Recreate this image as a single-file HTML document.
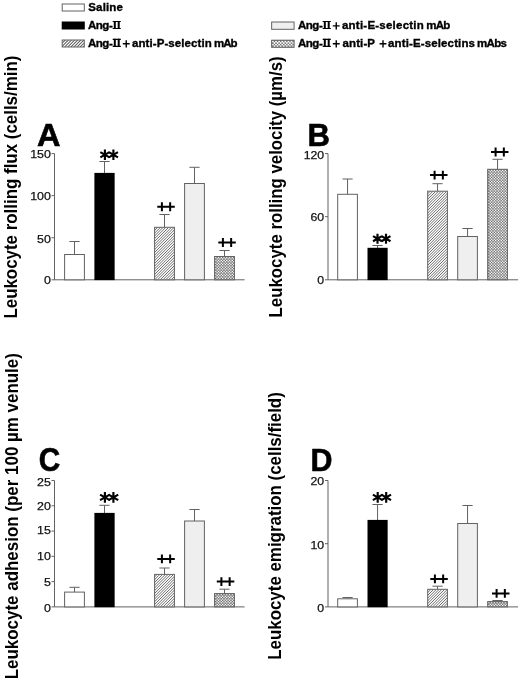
<!DOCTYPE html>
<html><head><meta charset="utf-8"><title>Figure</title>
<style>
html,body{margin:0;padding:0;background:#fff;}
svg{display:block;font-family:'Liberation Sans', sans-serif;will-change:transform;filter:grayscale(1);}
</style></head><body>
<svg width="520" height="679" viewBox="0 0 520 679">
<rect width="520" height="679" fill="#fff"/>

<rect x="62.2" y="4.0" width="22.1" height="7" fill="#fff" stroke="#626262" stroke-width="1"/>
<text x="88.30" y="11.1" font-size="11.5" font-weight="bold" fill="#000" stroke="#000" stroke-width="0.35" textLength="34.6" lengthAdjust="spacing">Saline</text>
<rect x="61.7" y="21.5" width="23.1" height="8" fill="#000"/>
<text x="87.90" y="29.1" font-size="11.5" font-weight="bold" fill="#000" stroke="#000" stroke-width="0.35" textLength="24.9" lengthAdjust="spacing">Ang-</text>
<path d="M112.70 21.50H120.80M112.70 28.50H120.80" stroke="#000" stroke-width="1.2" fill="none"/><path d="M114.80 20.90V29.10M118.70 20.90V29.10" stroke="#000" stroke-width="2" fill="none"/>
<clipPath id="c1"><rect x="62.2" y="40.0" width="22.1" height="7"/></clipPath><rect x="62.2" y="40.0" width="22.1" height="7" fill="#fff"/><path clip-path="url(#c1)" d="M52.20 47.00L59.20 40.00M55.30 47.00L62.30 40.00M58.40 47.00L65.40 40.00M61.50 47.00L68.50 40.00M64.60 47.00L71.60 40.00M67.70 47.00L74.70 40.00M70.80 47.00L77.80 40.00M73.90 47.00L80.90 40.00M77.00 47.00L84.00 40.00M80.10 47.00L87.10 40.00M83.20 47.00L90.20 40.00M86.30 47.00L93.30 40.00" stroke="#525252" stroke-width="1.02" fill="none"/><rect x="62.2" y="40.0" width="22.1" height="7" fill="none" stroke="#626262" stroke-width="1"/>
<text x="87.90" y="47.0" font-size="11.5" font-weight="bold" fill="#000" stroke="#000" stroke-width="0.35" textLength="24.9" lengthAdjust="spacing">Ang-</text>
<path d="M112.70 39.40H120.80M112.70 46.40H120.80" stroke="#000" stroke-width="1.2" fill="none"/><path d="M114.80 38.80V47.00M118.70 38.80V47.00" stroke="#000" stroke-width="2" fill="none"/>
<path d="M122.80 43.80H129.70M126.25 40.15V47.45" stroke="#000" stroke-width="1.4" fill="none"/>
<text x="132.00" y="47.0" font-size="11.5" font-weight="bold" fill="#000" stroke="#000" stroke-width="0.35" textLength="79.8" lengthAdjust="spacing">anti-P-selectin</text>
<text x="213.90" y="47.0" font-size="11.5" font-weight="bold" fill="#000" stroke="#000" stroke-width="0.35" textLength="23.6" lengthAdjust="spacing">mAb</text>
<rect x="271.65" y="22.0" width="22.45" height="7.3" fill="#efefef" stroke="#626262" stroke-width="1"/>
<text x="297.90" y="29.1" font-size="11.5" font-weight="bold" fill="#000" stroke="#000" stroke-width="0.35" textLength="24.9" lengthAdjust="spacing">Ang-</text>
<path d="M322.70 21.50H330.80M322.70 28.50H330.80" stroke="#000" stroke-width="1.2" fill="none"/><path d="M324.80 20.90V29.10M328.70 20.90V29.10" stroke="#000" stroke-width="2" fill="none"/>
<path d="M332.80 25.90H339.70M336.25 22.25V29.55" stroke="#000" stroke-width="1.4" fill="none"/>
<text x="342.00" y="29.1" font-size="11.5" font-weight="bold" fill="#000" stroke="#000" stroke-width="0.35" textLength="81.8" lengthAdjust="spacing">anti-E-selectin</text>
<text x="426.20" y="29.1" font-size="11.5" font-weight="bold" fill="#000" stroke="#000" stroke-width="0.35" textLength="24" lengthAdjust="spacing">mAb</text>
<clipPath id="c2"><rect x="271.65" y="40.2" width="22.45" height="7.1"/></clipPath><rect x="271.65" y="40.2" width="22.45" height="7.1" fill="#707070"/><path clip-path="url(#c2)" d="M272.92 41.48h0M276.02 41.48h0M279.12 41.48h0M282.23 41.48h0M285.33 41.48h0M288.43 41.48h0M291.53 41.48h0M294.63 41.48h0M274.47 43.02h0M277.57 43.02h0M280.68 43.02h0M283.78 43.02h0M286.88 43.02h0M289.98 43.02h0M293.08 43.02h0M272.92 44.57h0M276.02 44.57h0M279.12 44.57h0M282.23 44.57h0M285.33 44.57h0M288.43 44.57h0M291.53 44.57h0M294.63 44.57h0M274.47 46.12h0M277.57 46.12h0M280.68 46.12h0M283.78 46.12h0M286.88 46.12h0M289.98 46.12h0M293.08 46.12h0M272.92 47.67h0M276.02 47.67h0M279.12 47.67h0M282.23 47.67h0M285.33 47.67h0M288.43 47.67h0M291.53 47.67h0M294.63 47.67h0" stroke="#fff" stroke-width="1.8599999999999999" stroke-linecap="round" fill="none"/><rect x="271.65" y="40.2" width="22.45" height="7.1" fill="none" stroke="#626262" stroke-width="1"/>
<text x="297.90" y="47.0" font-size="11.5" font-weight="bold" fill="#000" stroke="#000" stroke-width="0.35" textLength="24.9" lengthAdjust="spacing">Ang-</text>
<path d="M322.70 39.40H330.80M322.70 46.40H330.80" stroke="#000" stroke-width="1.2" fill="none"/><path d="M324.80 38.80V47.00M328.70 38.80V47.00" stroke="#000" stroke-width="2" fill="none"/>
<path d="M332.80 43.80H339.70M336.25 40.15V47.45" stroke="#000" stroke-width="1.4" fill="none"/>
<text x="342.50" y="47.0" font-size="11.5" font-weight="bold" fill="#000" stroke="#000" stroke-width="0.35" textLength="32.5" lengthAdjust="spacing">anti-P</text>
<path d="M379.55 43.80H386.45M383.00 40.15V47.45" stroke="#000" stroke-width="1.4" fill="none"/>
<text x="388.00" y="47.0" font-size="11.5" font-weight="bold" fill="#000" stroke="#000" stroke-width="0.35" textLength="87" lengthAdjust="spacing">anti-E-selectins</text>
<text x="477.00" y="47.0" font-size="11.5" font-weight="bold" fill="#000" stroke="#000" stroke-width="0.35" textLength="30" lengthAdjust="spacing">mAbs</text>
<path d="M54.5 153.6V279.8H244.6" stroke="#626262" stroke-width="1" fill="none"/>
<path d="M51.5 153.6H54.5" stroke="#626262" stroke-width="1"/>
<text x="50.9" y="158.10" text-anchor="end" font-size="11.6" textLength="20.7" lengthAdjust="spacingAndGlyphs" fill="#111" stroke="#111" stroke-width="0.25">150</text>
<path d="M51.5 195.67H54.5" stroke="#626262" stroke-width="1"/>
<text x="50.9" y="199.92" text-anchor="end" font-size="11.6" textLength="20.7" lengthAdjust="spacingAndGlyphs" fill="#111" stroke="#111" stroke-width="0.25">100</text>
<path d="M51.5 237.73H54.5" stroke="#626262" stroke-width="1"/>
<text x="50.9" y="242.53" text-anchor="end" font-size="11.6" textLength="13.8" lengthAdjust="spacingAndGlyphs" fill="#111" stroke="#111" stroke-width="0.25">50</text>
<path d="M51.5 279.8H54.5" stroke="#626262" stroke-width="1"/>
<text x="50.9" y="284.00" text-anchor="end" font-size="11.6" textLength="6.9" lengthAdjust="spacingAndGlyphs" fill="#111" stroke="#111" stroke-width="0.25">0</text>
<path d="M74.5 254.5V241.5M69.4 241.5H79.6" stroke="#626262" stroke-width="1" fill="none"/>
<rect x="64.6" y="254.5" width="19.8" height="25.3" fill="#fff" stroke="#626262" stroke-width="1"/>
<path d="M104.5 173.3V161.5M99.4 161.5H109.6" stroke="#626262" stroke-width="1" fill="none"/>
<rect x="94.40" y="172.90" width="20.25" height="107.20" fill="#000"/>
<path d="M164.5 227.3V214.5M159.4 214.5H169.6" stroke="#626262" stroke-width="1" fill="none"/>
<clipPath id="c3"><rect x="154.6" y="227.3" width="19.8" height="52.5"/></clipPath><rect x="154.6" y="227.3" width="19.8" height="52.5" fill="#fff"/><path clip-path="url(#c3)" d="M99.70 279.80L152.20 227.30M102.45 279.80L154.95 227.30M105.20 279.80L157.70 227.30M107.95 279.80L160.45 227.30M110.70 279.80L163.20 227.30M113.45 279.80L165.95 227.30M116.20 279.80L168.70 227.30M118.95 279.80L171.45 227.30M121.70 279.80L174.20 227.30M124.45 279.80L176.95 227.30M127.20 279.80L179.70 227.30M129.95 279.80L182.45 227.30M132.70 279.80L185.20 227.30M135.45 279.80L187.95 227.30M138.20 279.80L190.70 227.30M140.95 279.80L193.45 227.30M143.70 279.80L196.20 227.30M146.45 279.80L198.95 227.30M149.20 279.80L201.70 227.30M151.95 279.80L204.45 227.30M154.70 279.80L207.20 227.30M157.45 279.80L209.95 227.30M160.20 279.80L212.70 227.30M162.95 279.80L215.45 227.30M165.70 279.80L218.20 227.30M168.45 279.80L220.95 227.30M171.20 279.80L223.70 227.30M173.95 279.80L226.45 227.30M176.70 279.80L229.20 227.30" stroke="#525252" stroke-width="0.85" fill="none"/><rect x="154.6" y="227.3" width="19.8" height="52.5" fill="none" stroke="#626262" stroke-width="1"/>
<path d="M194.5 183.5V167.3M189.4 167.3H199.6" stroke="#626262" stroke-width="1" fill="none"/>
<rect x="184.6" y="183.5" width="19.8" height="96.3" fill="#efefef" stroke="#626262" stroke-width="1"/>
<path d="M224.5 256.5V250.5M219.4 250.5H229.6" stroke="#626262" stroke-width="1" fill="none"/>
<clipPath id="c4"><rect x="214.6" y="256.5" width="19.8" height="23.3"/></clipPath><rect x="214.6" y="256.5" width="19.8" height="23.3" fill="#707070"/><path clip-path="url(#c4)" d="M215.79 257.69h0M218.54 257.69h0M221.29 257.69h0M224.04 257.69h0M226.79 257.69h0M229.54 257.69h0M232.29 257.69h0M235.04 257.69h0M217.16 259.06h0M219.91 259.06h0M222.66 259.06h0M225.41 259.06h0M228.16 259.06h0M230.91 259.06h0M233.66 259.06h0M215.79 260.44h0M218.54 260.44h0M221.29 260.44h0M224.04 260.44h0M226.79 260.44h0M229.54 260.44h0M232.29 260.44h0M235.04 260.44h0M217.16 261.81h0M219.91 261.81h0M222.66 261.81h0M225.41 261.81h0M228.16 261.81h0M230.91 261.81h0M233.66 261.81h0M215.79 263.19h0M218.54 263.19h0M221.29 263.19h0M224.04 263.19h0M226.79 263.19h0M229.54 263.19h0M232.29 263.19h0M235.04 263.19h0M217.16 264.56h0M219.91 264.56h0M222.66 264.56h0M225.41 264.56h0M228.16 264.56h0M230.91 264.56h0M233.66 264.56h0M215.79 265.94h0M218.54 265.94h0M221.29 265.94h0M224.04 265.94h0M226.79 265.94h0M229.54 265.94h0M232.29 265.94h0M235.04 265.94h0M217.16 267.31h0M219.91 267.31h0M222.66 267.31h0M225.41 267.31h0M228.16 267.31h0M230.91 267.31h0M233.66 267.31h0M215.79 268.69h0M218.54 268.69h0M221.29 268.69h0M224.04 268.69h0M226.79 268.69h0M229.54 268.69h0M232.29 268.69h0M235.04 268.69h0M217.16 270.06h0M219.91 270.06h0M222.66 270.06h0M225.41 270.06h0M228.16 270.06h0M230.91 270.06h0M233.66 270.06h0M215.79 271.44h0M218.54 271.44h0M221.29 271.44h0M224.04 271.44h0M226.79 271.44h0M229.54 271.44h0M232.29 271.44h0M235.04 271.44h0M217.16 272.81h0M219.91 272.81h0M222.66 272.81h0M225.41 272.81h0M228.16 272.81h0M230.91 272.81h0M233.66 272.81h0M215.79 274.19h0M218.54 274.19h0M221.29 274.19h0M224.04 274.19h0M226.79 274.19h0M229.54 274.19h0M232.29 274.19h0M235.04 274.19h0M217.16 275.56h0M219.91 275.56h0M222.66 275.56h0M225.41 275.56h0M228.16 275.56h0M230.91 275.56h0M233.66 275.56h0M215.79 276.94h0M218.54 276.94h0M221.29 276.94h0M224.04 276.94h0M226.79 276.94h0M229.54 276.94h0M232.29 276.94h0M235.04 276.94h0M217.16 278.31h0M219.91 278.31h0M222.66 278.31h0M225.41 278.31h0M228.16 278.31h0M230.91 278.31h0M233.66 278.31h0M215.79 279.69h0M218.54 279.69h0M221.29 279.69h0M224.04 279.69h0M226.79 279.69h0M229.54 279.69h0M232.29 279.69h0M235.04 279.69h0M217.16 281.06h0M219.91 281.06h0M222.66 281.06h0M225.41 281.06h0M228.16 281.06h0M230.91 281.06h0M233.66 281.06h0" stroke="#fff" stroke-width="1.55" stroke-linecap="round" fill="none"/><rect x="214.6" y="256.5" width="19.8" height="23.3" fill="none" stroke="#626262" stroke-width="1"/>
<path d="M104.90 149.60V159.90M100.34 152.12L109.46 157.38M100.34 157.38L109.46 152.12" stroke="#000" stroke-width="2.15" fill="none"/><path d="M113.40 149.60V159.90M108.84 152.12L117.96 157.38M108.84 157.38L117.96 152.12" stroke="#000" stroke-width="2.15" fill="none"/>
<path d="M157.30 206.70H174.80M161.90 202.25V211.15M170.15 202.25V211.15" stroke="#000" stroke-width="2" fill="none"/>
<path d="M218.30 242.50H235.80M222.90 238.05V246.95M231.15 238.05V246.95" stroke="#000" stroke-width="2" fill="none"/>
<text x="37.0" y="146.2" font-size="31.3" font-weight="bold" fill="#000" stroke="#000" stroke-width="0.6" stroke-linejoin="miter" textLength="23.5" lengthAdjust="spacingAndGlyphs">A</text>
<text transform="translate(17.0 318.6) rotate(-90)" font-size="18" font-weight="bold" fill="#000" textLength="263" lengthAdjust="spacingAndGlyphs">Leukocyte rolling flux (cells/min)</text>
<path d="M328.0 153.6V279.8H518.1" stroke="#626262" stroke-width="1" fill="none"/>
<path d="M325.0 153.6H328.0" stroke="#626262" stroke-width="1"/>
<text x="324.2" y="158.55" text-anchor="end" font-size="11.6" textLength="20.55" lengthAdjust="spacingAndGlyphs" fill="#111" stroke="#111" stroke-width="0.25">120</text>
<path d="M325.0 216.7H328.0" stroke="#626262" stroke-width="1"/>
<text x="324.2" y="220.75" text-anchor="end" font-size="11.6" textLength="13.7" lengthAdjust="spacingAndGlyphs" fill="#111" stroke="#111" stroke-width="0.25">60</text>
<path d="M325.0 279.8H328.0" stroke="#626262" stroke-width="1"/>
<text x="324.2" y="284.25" text-anchor="end" font-size="11.6" textLength="6.85" lengthAdjust="spacingAndGlyphs" fill="#111" stroke="#111" stroke-width="0.25">0</text>
<path d="M347.55 194.3V179M342.45 179H352.65000000000003" stroke="#626262" stroke-width="1" fill="none"/>
<rect x="337.7" y="194.3" width="19.7" height="85.5" fill="#fff" stroke="#626262" stroke-width="1"/>
<path d="M377.55 248.2V245.5M372.45 245.5H382.65000000000003" stroke="#626262" stroke-width="1" fill="none"/>
<rect x="367.50" y="247.80" width="20.15" height="32.30" fill="#000"/>
<path d="M437.55 191.2V183.7M432.45 183.7H442.65000000000003" stroke="#626262" stroke-width="1" fill="none"/>
<clipPath id="c5"><rect x="427.7" y="191.2" width="19.7" height="88.6"/></clipPath><rect x="427.7" y="191.2" width="19.7" height="88.6" fill="#fff"/><path clip-path="url(#c5)" d="M338.95 279.80L427.55 191.20M341.70 279.80L430.30 191.20M344.45 279.80L433.05 191.20M347.20 279.80L435.80 191.20M349.95 279.80L438.55 191.20M352.70 279.80L441.30 191.20M355.45 279.80L444.05 191.20M358.20 279.80L446.80 191.20M360.95 279.80L449.55 191.20M363.70 279.80L452.30 191.20M366.45 279.80L455.05 191.20M369.20 279.80L457.80 191.20M371.95 279.80L460.55 191.20M374.70 279.80L463.30 191.20M377.45 279.80L466.05 191.20M380.20 279.80L468.80 191.20M382.95 279.80L471.55 191.20M385.70 279.80L474.30 191.20M388.45 279.80L477.05 191.20M391.20 279.80L479.80 191.20M393.95 279.80L482.55 191.20M396.70 279.80L485.30 191.20M399.45 279.80L488.05 191.20M402.20 279.80L490.80 191.20M404.95 279.80L493.55 191.20M407.70 279.80L496.30 191.20M410.45 279.80L499.05 191.20M413.20 279.80L501.80 191.20M415.95 279.80L504.55 191.20M418.70 279.80L507.30 191.20M421.45 279.80L510.05 191.20M424.20 279.80L512.80 191.20M426.95 279.80L515.55 191.20M429.70 279.80L518.30 191.20M432.45 279.80L521.05 191.20M435.20 279.80L523.80 191.20M437.95 279.80L526.55 191.20M440.70 279.80L529.30 191.20M443.45 279.80L532.05 191.20M446.20 279.80L534.80 191.20M448.95 279.80L537.55 191.20" stroke="#525252" stroke-width="0.85" fill="none"/><rect x="427.7" y="191.2" width="19.7" height="88.6" fill="none" stroke="#626262" stroke-width="1"/>
<path d="M467.55 236.5V228.5M462.45 228.5H472.65000000000003" stroke="#626262" stroke-width="1" fill="none"/>
<rect x="457.7" y="236.5" width="19.7" height="43.3" fill="#efefef" stroke="#626262" stroke-width="1"/>
<path d="M497.55 169.3V159.3M492.45 159.3H502.65000000000003" stroke="#626262" stroke-width="1" fill="none"/>
<clipPath id="c6"><rect x="487.7" y="169.3" width="19.7" height="110.5"/></clipPath><rect x="487.7" y="169.3" width="19.7" height="110.5" fill="#707070"/><path clip-path="url(#c6)" d="M488.89 170.49h0M491.64 170.49h0M494.39 170.49h0M497.14 170.49h0M499.89 170.49h0M502.64 170.49h0M505.39 170.49h0M508.14 170.49h0M490.26 171.86h0M493.01 171.86h0M495.76 171.86h0M498.51 171.86h0M501.26 171.86h0M504.01 171.86h0M506.76 171.86h0M488.89 173.24h0M491.64 173.24h0M494.39 173.24h0M497.14 173.24h0M499.89 173.24h0M502.64 173.24h0M505.39 173.24h0M508.14 173.24h0M490.26 174.61h0M493.01 174.61h0M495.76 174.61h0M498.51 174.61h0M501.26 174.61h0M504.01 174.61h0M506.76 174.61h0M488.89 175.99h0M491.64 175.99h0M494.39 175.99h0M497.14 175.99h0M499.89 175.99h0M502.64 175.99h0M505.39 175.99h0M508.14 175.99h0M490.26 177.36h0M493.01 177.36h0M495.76 177.36h0M498.51 177.36h0M501.26 177.36h0M504.01 177.36h0M506.76 177.36h0M488.89 178.74h0M491.64 178.74h0M494.39 178.74h0M497.14 178.74h0M499.89 178.74h0M502.64 178.74h0M505.39 178.74h0M508.14 178.74h0M490.26 180.11h0M493.01 180.11h0M495.76 180.11h0M498.51 180.11h0M501.26 180.11h0M504.01 180.11h0M506.76 180.11h0M488.89 181.49h0M491.64 181.49h0M494.39 181.49h0M497.14 181.49h0M499.89 181.49h0M502.64 181.49h0M505.39 181.49h0M508.14 181.49h0M490.26 182.86h0M493.01 182.86h0M495.76 182.86h0M498.51 182.86h0M501.26 182.86h0M504.01 182.86h0M506.76 182.86h0M488.89 184.24h0M491.64 184.24h0M494.39 184.24h0M497.14 184.24h0M499.89 184.24h0M502.64 184.24h0M505.39 184.24h0M508.14 184.24h0M490.26 185.61h0M493.01 185.61h0M495.76 185.61h0M498.51 185.61h0M501.26 185.61h0M504.01 185.61h0M506.76 185.61h0M488.89 186.99h0M491.64 186.99h0M494.39 186.99h0M497.14 186.99h0M499.89 186.99h0M502.64 186.99h0M505.39 186.99h0M508.14 186.99h0M490.26 188.36h0M493.01 188.36h0M495.76 188.36h0M498.51 188.36h0M501.26 188.36h0M504.01 188.36h0M506.76 188.36h0M488.89 189.74h0M491.64 189.74h0M494.39 189.74h0M497.14 189.74h0M499.89 189.74h0M502.64 189.74h0M505.39 189.74h0M508.14 189.74h0M490.26 191.11h0M493.01 191.11h0M495.76 191.11h0M498.51 191.11h0M501.26 191.11h0M504.01 191.11h0M506.76 191.11h0M488.89 192.49h0M491.64 192.49h0M494.39 192.49h0M497.14 192.49h0M499.89 192.49h0M502.64 192.49h0M505.39 192.49h0M508.14 192.49h0M490.26 193.86h0M493.01 193.86h0M495.76 193.86h0M498.51 193.86h0M501.26 193.86h0M504.01 193.86h0M506.76 193.86h0M488.89 195.24h0M491.64 195.24h0M494.39 195.24h0M497.14 195.24h0M499.89 195.24h0M502.64 195.24h0M505.39 195.24h0M508.14 195.24h0M490.26 196.61h0M493.01 196.61h0M495.76 196.61h0M498.51 196.61h0M501.26 196.61h0M504.01 196.61h0M506.76 196.61h0M488.89 197.99h0M491.64 197.99h0M494.39 197.99h0M497.14 197.99h0M499.89 197.99h0M502.64 197.99h0M505.39 197.99h0M508.14 197.99h0M490.26 199.36h0M493.01 199.36h0M495.76 199.36h0M498.51 199.36h0M501.26 199.36h0M504.01 199.36h0M506.76 199.36h0M488.89 200.74h0M491.64 200.74h0M494.39 200.74h0M497.14 200.74h0M499.89 200.74h0M502.64 200.74h0M505.39 200.74h0M508.14 200.74h0M490.26 202.11h0M493.01 202.11h0M495.76 202.11h0M498.51 202.11h0M501.26 202.11h0M504.01 202.11h0M506.76 202.11h0M488.89 203.49h0M491.64 203.49h0M494.39 203.49h0M497.14 203.49h0M499.89 203.49h0M502.64 203.49h0M505.39 203.49h0M508.14 203.49h0M490.26 204.86h0M493.01 204.86h0M495.76 204.86h0M498.51 204.86h0M501.26 204.86h0M504.01 204.86h0M506.76 204.86h0M488.89 206.24h0M491.64 206.24h0M494.39 206.24h0M497.14 206.24h0M499.89 206.24h0M502.64 206.24h0M505.39 206.24h0M508.14 206.24h0M490.26 207.61h0M493.01 207.61h0M495.76 207.61h0M498.51 207.61h0M501.26 207.61h0M504.01 207.61h0M506.76 207.61h0M488.89 208.99h0M491.64 208.99h0M494.39 208.99h0M497.14 208.99h0M499.89 208.99h0M502.64 208.99h0M505.39 208.99h0M508.14 208.99h0M490.26 210.36h0M493.01 210.36h0M495.76 210.36h0M498.51 210.36h0M501.26 210.36h0M504.01 210.36h0M506.76 210.36h0M488.89 211.74h0M491.64 211.74h0M494.39 211.74h0M497.14 211.74h0M499.89 211.74h0M502.64 211.74h0M505.39 211.74h0M508.14 211.74h0M490.26 213.11h0M493.01 213.11h0M495.76 213.11h0M498.51 213.11h0M501.26 213.11h0M504.01 213.11h0M506.76 213.11h0M488.89 214.49h0M491.64 214.49h0M494.39 214.49h0M497.14 214.49h0M499.89 214.49h0M502.64 214.49h0M505.39 214.49h0M508.14 214.49h0M490.26 215.86h0M493.01 215.86h0M495.76 215.86h0M498.51 215.86h0M501.26 215.86h0M504.01 215.86h0M506.76 215.86h0M488.89 217.24h0M491.64 217.24h0M494.39 217.24h0M497.14 217.24h0M499.89 217.24h0M502.64 217.24h0M505.39 217.24h0M508.14 217.24h0M490.26 218.61h0M493.01 218.61h0M495.76 218.61h0M498.51 218.61h0M501.26 218.61h0M504.01 218.61h0M506.76 218.61h0M488.89 219.99h0M491.64 219.99h0M494.39 219.99h0M497.14 219.99h0M499.89 219.99h0M502.64 219.99h0M505.39 219.99h0M508.14 219.99h0M490.26 221.36h0M493.01 221.36h0M495.76 221.36h0M498.51 221.36h0M501.26 221.36h0M504.01 221.36h0M506.76 221.36h0M488.89 222.74h0M491.64 222.74h0M494.39 222.74h0M497.14 222.74h0M499.89 222.74h0M502.64 222.74h0M505.39 222.74h0M508.14 222.74h0M490.26 224.11h0M493.01 224.11h0M495.76 224.11h0M498.51 224.11h0M501.26 224.11h0M504.01 224.11h0M506.76 224.11h0M488.89 225.49h0M491.64 225.49h0M494.39 225.49h0M497.14 225.49h0M499.89 225.49h0M502.64 225.49h0M505.39 225.49h0M508.14 225.49h0M490.26 226.86h0M493.01 226.86h0M495.76 226.86h0M498.51 226.86h0M501.26 226.86h0M504.01 226.86h0M506.76 226.86h0M488.89 228.24h0M491.64 228.24h0M494.39 228.24h0M497.14 228.24h0M499.89 228.24h0M502.64 228.24h0M505.39 228.24h0M508.14 228.24h0M490.26 229.61h0M493.01 229.61h0M495.76 229.61h0M498.51 229.61h0M501.26 229.61h0M504.01 229.61h0M506.76 229.61h0M488.89 230.99h0M491.64 230.99h0M494.39 230.99h0M497.14 230.99h0M499.89 230.99h0M502.64 230.99h0M505.39 230.99h0M508.14 230.99h0M490.26 232.36h0M493.01 232.36h0M495.76 232.36h0M498.51 232.36h0M501.26 232.36h0M504.01 232.36h0M506.76 232.36h0M488.89 233.74h0M491.64 233.74h0M494.39 233.74h0M497.14 233.74h0M499.89 233.74h0M502.64 233.74h0M505.39 233.74h0M508.14 233.74h0M490.26 235.11h0M493.01 235.11h0M495.76 235.11h0M498.51 235.11h0M501.26 235.11h0M504.01 235.11h0M506.76 235.11h0M488.89 236.49h0M491.64 236.49h0M494.39 236.49h0M497.14 236.49h0M499.89 236.49h0M502.64 236.49h0M505.39 236.49h0M508.14 236.49h0M490.26 237.86h0M493.01 237.86h0M495.76 237.86h0M498.51 237.86h0M501.26 237.86h0M504.01 237.86h0M506.76 237.86h0M488.89 239.24h0M491.64 239.24h0M494.39 239.24h0M497.14 239.24h0M499.89 239.24h0M502.64 239.24h0M505.39 239.24h0M508.14 239.24h0M490.26 240.61h0M493.01 240.61h0M495.76 240.61h0M498.51 240.61h0M501.26 240.61h0M504.01 240.61h0M506.76 240.61h0M488.89 241.99h0M491.64 241.99h0M494.39 241.99h0M497.14 241.99h0M499.89 241.99h0M502.64 241.99h0M505.39 241.99h0M508.14 241.99h0M490.26 243.36h0M493.01 243.36h0M495.76 243.36h0M498.51 243.36h0M501.26 243.36h0M504.01 243.36h0M506.76 243.36h0M488.89 244.74h0M491.64 244.74h0M494.39 244.74h0M497.14 244.74h0M499.89 244.74h0M502.64 244.74h0M505.39 244.74h0M508.14 244.74h0M490.26 246.11h0M493.01 246.11h0M495.76 246.11h0M498.51 246.11h0M501.26 246.11h0M504.01 246.11h0M506.76 246.11h0M488.89 247.49h0M491.64 247.49h0M494.39 247.49h0M497.14 247.49h0M499.89 247.49h0M502.64 247.49h0M505.39 247.49h0M508.14 247.49h0M490.26 248.86h0M493.01 248.86h0M495.76 248.86h0M498.51 248.86h0M501.26 248.86h0M504.01 248.86h0M506.76 248.86h0M488.89 250.24h0M491.64 250.24h0M494.39 250.24h0M497.14 250.24h0M499.89 250.24h0M502.64 250.24h0M505.39 250.24h0M508.14 250.24h0M490.26 251.61h0M493.01 251.61h0M495.76 251.61h0M498.51 251.61h0M501.26 251.61h0M504.01 251.61h0M506.76 251.61h0M488.89 252.99h0M491.64 252.99h0M494.39 252.99h0M497.14 252.99h0M499.89 252.99h0M502.64 252.99h0M505.39 252.99h0M508.14 252.99h0M490.26 254.36h0M493.01 254.36h0M495.76 254.36h0M498.51 254.36h0M501.26 254.36h0M504.01 254.36h0M506.76 254.36h0M488.89 255.74h0M491.64 255.74h0M494.39 255.74h0M497.14 255.74h0M499.89 255.74h0M502.64 255.74h0M505.39 255.74h0M508.14 255.74h0M490.26 257.11h0M493.01 257.11h0M495.76 257.11h0M498.51 257.11h0M501.26 257.11h0M504.01 257.11h0M506.76 257.11h0M488.89 258.49h0M491.64 258.49h0M494.39 258.49h0M497.14 258.49h0M499.89 258.49h0M502.64 258.49h0M505.39 258.49h0M508.14 258.49h0M490.26 259.86h0M493.01 259.86h0M495.76 259.86h0M498.51 259.86h0M501.26 259.86h0M504.01 259.86h0M506.76 259.86h0M488.89 261.24h0M491.64 261.24h0M494.39 261.24h0M497.14 261.24h0M499.89 261.24h0M502.64 261.24h0M505.39 261.24h0M508.14 261.24h0M490.26 262.61h0M493.01 262.61h0M495.76 262.61h0M498.51 262.61h0M501.26 262.61h0M504.01 262.61h0M506.76 262.61h0M488.89 263.99h0M491.64 263.99h0M494.39 263.99h0M497.14 263.99h0M499.89 263.99h0M502.64 263.99h0M505.39 263.99h0M508.14 263.99h0M490.26 265.36h0M493.01 265.36h0M495.76 265.36h0M498.51 265.36h0M501.26 265.36h0M504.01 265.36h0M506.76 265.36h0M488.89 266.74h0M491.64 266.74h0M494.39 266.74h0M497.14 266.74h0M499.89 266.74h0M502.64 266.74h0M505.39 266.74h0M508.14 266.74h0M490.26 268.11h0M493.01 268.11h0M495.76 268.11h0M498.51 268.11h0M501.26 268.11h0M504.01 268.11h0M506.76 268.11h0M488.89 269.49h0M491.64 269.49h0M494.39 269.49h0M497.14 269.49h0M499.89 269.49h0M502.64 269.49h0M505.39 269.49h0M508.14 269.49h0M490.26 270.86h0M493.01 270.86h0M495.76 270.86h0M498.51 270.86h0M501.26 270.86h0M504.01 270.86h0M506.76 270.86h0M488.89 272.24h0M491.64 272.24h0M494.39 272.24h0M497.14 272.24h0M499.89 272.24h0M502.64 272.24h0M505.39 272.24h0M508.14 272.24h0M490.26 273.61h0M493.01 273.61h0M495.76 273.61h0M498.51 273.61h0M501.26 273.61h0M504.01 273.61h0M506.76 273.61h0M488.89 274.99h0M491.64 274.99h0M494.39 274.99h0M497.14 274.99h0M499.89 274.99h0M502.64 274.99h0M505.39 274.99h0M508.14 274.99h0M490.26 276.36h0M493.01 276.36h0M495.76 276.36h0M498.51 276.36h0M501.26 276.36h0M504.01 276.36h0M506.76 276.36h0M488.89 277.74h0M491.64 277.74h0M494.39 277.74h0M497.14 277.74h0M499.89 277.74h0M502.64 277.74h0M505.39 277.74h0M508.14 277.74h0M490.26 279.11h0M493.01 279.11h0M495.76 279.11h0M498.51 279.11h0M501.26 279.11h0M504.01 279.11h0M506.76 279.11h0M488.89 280.49h0M491.64 280.49h0M494.39 280.49h0M497.14 280.49h0M499.89 280.49h0M502.64 280.49h0M505.39 280.49h0M508.14 280.49h0" stroke="#fff" stroke-width="1.55" stroke-linecap="round" fill="none"/><rect x="487.7" y="169.3" width="19.7" height="110.5" fill="none" stroke="#626262" stroke-width="1"/>
<path d="M377.50 233.65V243.75M373.03 236.12L381.97 241.28M373.03 241.28L381.97 236.12" stroke="#000" stroke-width="2.15" fill="none"/><path d="M386.00 233.65V243.75M381.53 236.12L390.47 241.28M381.53 241.28L390.47 236.12" stroke="#000" stroke-width="2.15" fill="none"/>
<path d="M430.00 175.10H447.50M434.60 170.65V179.55M442.85 170.65V179.55" stroke="#000" stroke-width="2" fill="none"/>
<path d="M491.00 152.00H508.50M495.60 147.55V156.45M503.85 147.55V156.45" stroke="#000" stroke-width="2" fill="none"/>
<text x="307.5" y="146.3" font-size="31.3" font-weight="bold" fill="#000" stroke="#000" stroke-width="0.6" stroke-linejoin="miter" textLength="22.4" lengthAdjust="spacingAndGlyphs">B</text>
<text transform="translate(281.7 317.4) rotate(-90)" font-size="18" font-weight="bold" fill="#000" textLength="261" lengthAdjust="spacingAndGlyphs">Leukocyte rolling velocity (µm/s)</text>
<path d="M54.5 480.5V606.9H244.6" stroke="#626262" stroke-width="1" fill="none"/>
<path d="M51.5 480.5H54.5" stroke="#626262" stroke-width="1"/>
<text x="50.9" y="485.55" text-anchor="end" font-size="11.6" textLength="13.8" lengthAdjust="spacingAndGlyphs" fill="#111" stroke="#111" stroke-width="0.25">25</text>
<path d="M51.5 505.78H54.5" stroke="#626262" stroke-width="1"/>
<text x="50.9" y="509.73" text-anchor="end" font-size="11.6" textLength="13.8" lengthAdjust="spacingAndGlyphs" fill="#111" stroke="#111" stroke-width="0.25">20</text>
<path d="M51.5 531.06H54.5" stroke="#626262" stroke-width="1"/>
<text x="50.9" y="534.41" text-anchor="end" font-size="11.6" textLength="13.8" lengthAdjust="spacingAndGlyphs" fill="#111" stroke="#111" stroke-width="0.25">15</text>
<path d="M51.5 556.34H54.5" stroke="#626262" stroke-width="1"/>
<text x="50.9" y="560.39" text-anchor="end" font-size="11.6" textLength="13.8" lengthAdjust="spacingAndGlyphs" fill="#111" stroke="#111" stroke-width="0.25">10</text>
<path d="M51.5 581.62H54.5" stroke="#626262" stroke-width="1"/>
<text x="50.9" y="586.07" text-anchor="end" font-size="11.6" textLength="6.9" lengthAdjust="spacingAndGlyphs" fill="#111" stroke="#111" stroke-width="0.25">5</text>
<path d="M51.5 606.9H54.5" stroke="#626262" stroke-width="1"/>
<text x="50.9" y="611.95" text-anchor="end" font-size="11.6" textLength="6.9" lengthAdjust="spacingAndGlyphs" fill="#111" stroke="#111" stroke-width="0.25">0</text>
<path d="M74.5 592.1V587.3M69.4 587.3H79.6" stroke="#626262" stroke-width="1" fill="none"/>
<rect x="64.6" y="592.1" width="19.8" height="14.8" fill="#fff" stroke="#626262" stroke-width="1"/>
<path d="M104.5 513.3V505.3M99.4 505.3H109.6" stroke="#626262" stroke-width="1" fill="none"/>
<rect x="94.40" y="512.90" width="20.25" height="94.30" fill="#000"/>
<path d="M164.5 574.4V568.0M159.4 568.0H169.6" stroke="#626262" stroke-width="1" fill="none"/>
<clipPath id="c7"><rect x="154.6" y="574.4" width="19.8" height="32.5"/></clipPath><rect x="154.6" y="574.4" width="19.8" height="32.5" fill="#fff"/><path clip-path="url(#c7)" d="M121.85 606.90L154.35 574.40M124.60 606.90L157.10 574.40M127.35 606.90L159.85 574.40M130.10 606.90L162.60 574.40M132.85 606.90L165.35 574.40M135.60 606.90L168.10 574.40M138.35 606.90L170.85 574.40M141.10 606.90L173.60 574.40M143.85 606.90L176.35 574.40M146.60 606.90L179.10 574.40M149.35 606.90L181.85 574.40M152.10 606.90L184.60 574.40M154.85 606.90L187.35 574.40M157.60 606.90L190.10 574.40M160.35 606.90L192.85 574.40M163.10 606.90L195.60 574.40M165.85 606.90L198.35 574.40M168.60 606.90L201.10 574.40M171.35 606.90L203.85 574.40M174.10 606.90L206.60 574.40M176.85 606.90L209.35 574.40" stroke="#525252" stroke-width="0.85" fill="none"/><rect x="154.6" y="574.4" width="19.8" height="32.5" fill="none" stroke="#626262" stroke-width="1"/>
<path d="M194.5 521V509.5M189.4 509.5H199.6" stroke="#626262" stroke-width="1" fill="none"/>
<rect x="184.6" y="521" width="19.8" height="85.9" fill="#efefef" stroke="#626262" stroke-width="1"/>
<path d="M224.5 593.6V589.2M219.4 589.2H229.6" stroke="#626262" stroke-width="1" fill="none"/>
<clipPath id="c8"><rect x="214.6" y="593.6" width="19.8" height="13.3"/></clipPath><rect x="214.6" y="593.6" width="19.8" height="13.3" fill="#707070"/><path clip-path="url(#c8)" d="M215.79 594.79h0M218.54 594.79h0M221.29 594.79h0M224.04 594.79h0M226.79 594.79h0M229.54 594.79h0M232.29 594.79h0M235.04 594.79h0M217.16 596.16h0M219.91 596.16h0M222.66 596.16h0M225.41 596.16h0M228.16 596.16h0M230.91 596.16h0M233.66 596.16h0M215.79 597.54h0M218.54 597.54h0M221.29 597.54h0M224.04 597.54h0M226.79 597.54h0M229.54 597.54h0M232.29 597.54h0M235.04 597.54h0M217.16 598.91h0M219.91 598.91h0M222.66 598.91h0M225.41 598.91h0M228.16 598.91h0M230.91 598.91h0M233.66 598.91h0M215.79 600.29h0M218.54 600.29h0M221.29 600.29h0M224.04 600.29h0M226.79 600.29h0M229.54 600.29h0M232.29 600.29h0M235.04 600.29h0M217.16 601.66h0M219.91 601.66h0M222.66 601.66h0M225.41 601.66h0M228.16 601.66h0M230.91 601.66h0M233.66 601.66h0M215.79 603.04h0M218.54 603.04h0M221.29 603.04h0M224.04 603.04h0M226.79 603.04h0M229.54 603.04h0M232.29 603.04h0M235.04 603.04h0M217.16 604.41h0M219.91 604.41h0M222.66 604.41h0M225.41 604.41h0M228.16 604.41h0M230.91 604.41h0M233.66 604.41h0M215.79 605.79h0M218.54 605.79h0M221.29 605.79h0M224.04 605.79h0M226.79 605.79h0M229.54 605.79h0M232.29 605.79h0M235.04 605.79h0M217.16 607.16h0M219.91 607.16h0M222.66 607.16h0M225.41 607.16h0M228.16 607.16h0M230.91 607.16h0M233.66 607.16h0" stroke="#fff" stroke-width="1.55" stroke-linecap="round" fill="none"/><rect x="214.6" y="593.6" width="19.8" height="13.3" fill="none" stroke="#626262" stroke-width="1"/>
<path d="M104.90 491.95V502.85M100.08 494.62L109.72 500.18M100.08 500.18L109.72 494.62" stroke="#000" stroke-width="2.15" fill="none"/><path d="M113.40 491.95V502.85M108.58 494.62L118.22 500.18M108.58 500.18L118.22 494.62" stroke="#000" stroke-width="2.15" fill="none"/>
<path d="M157.30 558.90H174.80M161.90 554.45V563.35M170.15 554.45V563.35" stroke="#000" stroke-width="2" fill="none"/>
<path d="M216.80 581.60H234.30M221.40 577.15V586.05M229.65 577.15V586.05" stroke="#000" stroke-width="2" fill="none"/>
<text x="38.7" y="471.3" font-size="32.5" font-weight="bold" fill="#000" stroke="#000" stroke-width="0.6" stroke-linejoin="miter" textLength="21.5" lengthAdjust="spacingAndGlyphs">C</text>
<text transform="translate(17.6 679.3) rotate(-90)" font-size="18" font-weight="bold" fill="#000" textLength="326.2" lengthAdjust="spacingAndGlyphs">Leukocyte adhesion (per 100 µm venule)</text>
<path d="M328.0 480.5V606.9H518.1" stroke="#626262" stroke-width="1" fill="none"/>
<path d="M325.0 480.5H328.0" stroke="#626262" stroke-width="1"/>
<text x="324.2" y="485.15" text-anchor="end" font-size="11.6" textLength="13.7" lengthAdjust="spacingAndGlyphs" fill="#111" stroke="#111" stroke-width="0.25">20</text>
<path d="M325.0 543.7H328.0" stroke="#626262" stroke-width="1"/>
<text x="324.2" y="548.50" text-anchor="end" font-size="11.6" textLength="13.7" lengthAdjust="spacingAndGlyphs" fill="#111" stroke="#111" stroke-width="0.25">10</text>
<path d="M325.0 606.9H328.0" stroke="#626262" stroke-width="1"/>
<text x="324.2" y="611.55" text-anchor="end" font-size="11.6" textLength="6.85" lengthAdjust="spacingAndGlyphs" fill="#111" stroke="#111" stroke-width="0.25">0</text>
<path d="M347.55 598.8V597.5M342.45 597.5H352.65000000000003" stroke="#626262" stroke-width="1" fill="none"/>
<rect x="337.7" y="598.8" width="19.7" height="8.1" fill="#fff" stroke="#626262" stroke-width="1"/>
<path d="M377.55 520.3V504.5M372.45 504.5H382.65000000000003" stroke="#626262" stroke-width="1" fill="none"/>
<rect x="367.50" y="519.90" width="20.15" height="87.30" fill="#000"/>
<path d="M437.55 589.3V586.2M432.45 586.2H442.65000000000003" stroke="#626262" stroke-width="1" fill="none"/>
<clipPath id="c9"><rect x="427.7" y="589.3" width="19.7" height="17.6"/></clipPath><rect x="427.7" y="589.3" width="19.7" height="17.6" fill="#fff"/><path clip-path="url(#c9)" d="M407.85 606.90L425.45 589.30M410.60 606.90L428.20 589.30M413.35 606.90L430.95 589.30M416.10 606.90L433.70 589.30M418.85 606.90L436.45 589.30M421.60 606.90L439.20 589.30M424.35 606.90L441.95 589.30M427.10 606.90L444.70 589.30M429.85 606.90L447.45 589.30M432.60 606.90L450.20 589.30M435.35 606.90L452.95 589.30M438.10 606.90L455.70 589.30M440.85 606.90L458.45 589.30M443.60 606.90L461.20 589.30M446.35 606.90L463.95 589.30M449.10 606.90L466.70 589.30" stroke="#525252" stroke-width="0.85" fill="none"/><rect x="427.7" y="589.3" width="19.7" height="17.6" fill="none" stroke="#626262" stroke-width="1"/>
<path d="M467.55 523.5V505.5M462.45 505.5H472.65000000000003" stroke="#626262" stroke-width="1" fill="none"/>
<rect x="457.7" y="523.5" width="19.7" height="83.4" fill="#efefef" stroke="#626262" stroke-width="1"/>
<path d="M497.55 601.6V600.5M492.45 600.5H502.65000000000003" stroke="#626262" stroke-width="1" fill="none"/>
<clipPath id="c10"><rect x="487.7" y="601.6" width="19.7" height="5.3"/></clipPath><rect x="487.7" y="601.6" width="19.7" height="5.3" fill="#707070"/><path clip-path="url(#c10)" d="M488.89 602.79h0M491.64 602.79h0M494.39 602.79h0M497.14 602.79h0M499.89 602.79h0M502.64 602.79h0M505.39 602.79h0M508.14 602.79h0M490.26 604.16h0M493.01 604.16h0M495.76 604.16h0M498.51 604.16h0M501.26 604.16h0M504.01 604.16h0M506.76 604.16h0M488.89 605.54h0M491.64 605.54h0M494.39 605.54h0M497.14 605.54h0M499.89 605.54h0M502.64 605.54h0M505.39 605.54h0M508.14 605.54h0M490.26 606.91h0M493.01 606.91h0M495.76 606.91h0M498.51 606.91h0M501.26 606.91h0M504.01 606.91h0M506.76 606.91h0" stroke="#fff" stroke-width="1.55" stroke-linecap="round" fill="none"/><rect x="487.7" y="601.6" width="19.7" height="5.3" fill="none" stroke="#626262" stroke-width="1"/>
<path d="M377.70 491.95V502.85M372.88 494.62L382.52 500.18M372.88 500.18L382.52 494.62" stroke="#000" stroke-width="2.15" fill="none"/><path d="M386.20 491.95V502.85M381.38 494.62L391.02 500.18M381.38 500.18L391.02 494.62" stroke="#000" stroke-width="2.15" fill="none"/>
<path d="M430.30 578.90H447.80M434.90 574.45V583.35M443.15 574.45V583.35" stroke="#000" stroke-width="2" fill="none"/>
<path d="M492.00 593.40H509.50M496.60 588.95V597.85M504.85 588.95V597.85" stroke="#000" stroke-width="2" fill="none"/>
<text x="310.5" y="471.0" font-size="31.3" font-weight="bold" fill="#000" stroke="#000" stroke-width="0.6" stroke-linejoin="miter" textLength="22.0" lengthAdjust="spacingAndGlyphs">D</text>
<text transform="translate(281.2 659.8) rotate(-90)" font-size="18" font-weight="bold" fill="#000" textLength="267.6" lengthAdjust="spacingAndGlyphs">Leukocyte emigration (cells/field)</text>
</svg></body></html>
